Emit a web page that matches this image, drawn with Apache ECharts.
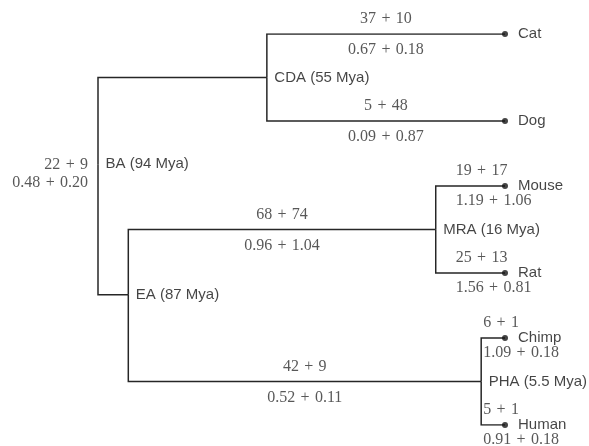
<!DOCTYPE html>
<html>
<head>
<meta charset="utf-8">
<script src="https://cdn.jsdelivr.net/npm/echarts@6/dist/echarts.min.js"></script>
<style>
html,body{margin:0;padding:0;background:#fff;}
#chart{width:589px;height:446px;}
</style>
</head>
<body>
<div id="chart"></div>
<script>
// ---- data ----
const nodeNames  = ['BA', 'CDA', 'EA', 'MRA', 'PHA', 'Cat', 'Dog', 'Mouse', 'Rat', 'Chimp', 'Human'];
const nodeMya    = [94, 55, 87, 16, 5.5, 0, 0, 0, 0, 0, 0];
const nodeRow    = [3, 1, 6, 4.5, 8, 0, 2, 3.5, 5.5, 7, 9];
const nodeParent = [-1, 0, 0, 2, 2, 1, 1, 3, 3, 4, 4];
const subsA = [22, null, null, 68, 42, 37, 5, 19, 25, 6, 5];
const subsB = [9, null, null, 74, 9, 10, 48, 17, 13, 1, 1];
const rateA = [0.48, null, null, 0.96, 0.52, 0.67, 0.09, 1.19, 1.56, 1.09, 0.91];
const rateB = [0.20, null, null, 1.04, 0.11, 0.18, 0.87, 1.06, 0.81, 0.18, 0.18];

// ---- build ----
const PLUS = '\u2004+\u2004';
const hasChild = nodeNames.map((_, i) => nodeParent.includes(i));
const edges = [];
nodeNames.forEach((n, i) => {
  const p = nodeParent[i];
  if (p < 0) return;
  edges.push({coords: [[nodeMya[p], nodeRow[p]], [nodeMya[p], nodeRow[i]], [nodeMya[i], nodeRow[i]]]});
});

const numFont = {fontFamily: 'Liberation Serif', fontSize: 16, color: '#2e2e2e'};
const sansFont = {fontFamily: 'Liberation Sans', fontSize: 15, color: '#151515'};

const branchLabels = [];
nodeNames.forEach((n, i) => {
  if (subsA[i] == null) return;
  const t1 = subsA[i] + PLUS + subsB[i];
  const t2 = rateA[i].toFixed(2) + PLUS + rateB[i].toFixed(2);
  const p = nodeParent[i];
  if (p < 0) {
    branchLabels.push({value: [nodeMya[i], nodeRow[i]], label: {formatter: t1, align: 'right', offset: [-10, 0]}});
    branchLabels.push({value: [nodeMya[i], nodeRow[i]], label: {formatter: t2, align: 'right', offset: [-10, 18]}});
    return;
  }
  const len = nodeMya[p] - nodeMya[i];
  if (len >= 30) {
    const mx = (nodeMya[p] + nodeMya[i]) / 2;
    branchLabels.push({value: [mx, nodeRow[i]], label: {formatter: t1, align: 'center', offset: [0, -15]}});
    branchLabels.push({value: [mx, nodeRow[i]], label: {formatter: t2, align: 'center', offset: [0, 16]}});
  } else {
    const pad = len >= 10 ? 20 : 2;
    branchLabels.push({value: [nodeMya[p], nodeRow[i]], label: {formatter: t1, align: 'left', offset: [pad, -15]}});
    branchLabels.push({value: [nodeMya[p], nodeRow[i]], label: {formatter: t2, align: 'left', offset: [pad, 15]}});
  }
});

const internalData = [];
const leafData = [];
nodeNames.forEach((n, i) => {
  if (hasChild[i]) internalData.push({value: [nodeMya[i], nodeRow[i]], name: n + ' (' + nodeMya[i] + ' Mya)'});
  else leafData.push({value: [nodeMya[i], nodeRow[i]], name: n});
});

const chart = echarts.init(document.getElementById('chart'), null, {renderer: 'canvas'});
chart.setOption({
  backgroundColor: '#ffffff',
  animation: false,
  grid: {left: 98, right: 84, top: 34, height: 391},
  xAxis: {type: 'value', inverse: true, min: 0, max: 94, show: false},
  yAxis: {type: 'value', inverse: true, min: 0, max: 9, show: false},
  series: [
    {
      type: 'lines', coordinateSystem: 'cartesian2d', polyline: true,
      lineStyle: {color: '#262626', width: 1.5, opacity: 1},
      silent: true, data: edges
    },
    {
      type: 'scatter', symbolSize: 6, clip: false,
      itemStyle: {color: '#151515'},
      label: Object.assign({show: true, position: 'right', distance: 10, formatter: '{b}'}, sansFont),
      data: leafData
    },
    {
      type: 'scatter', symbolSize: 1, clip: false,
      itemStyle: {color: 'transparent'},
      label: Object.assign({show: true, position: 'right', distance: 7, formatter: '{b}'}, sansFont),
      data: internalData
    },
    {
      type: 'scatter', symbolSize: 1, clip: false,
      itemStyle: {color: 'transparent'},
      label: Object.assign({show: true, position: 'inside', verticalAlign: 'middle'}, numFont),
      data: branchLabels
    }
  ]
});
</script>
</body>
</html>
